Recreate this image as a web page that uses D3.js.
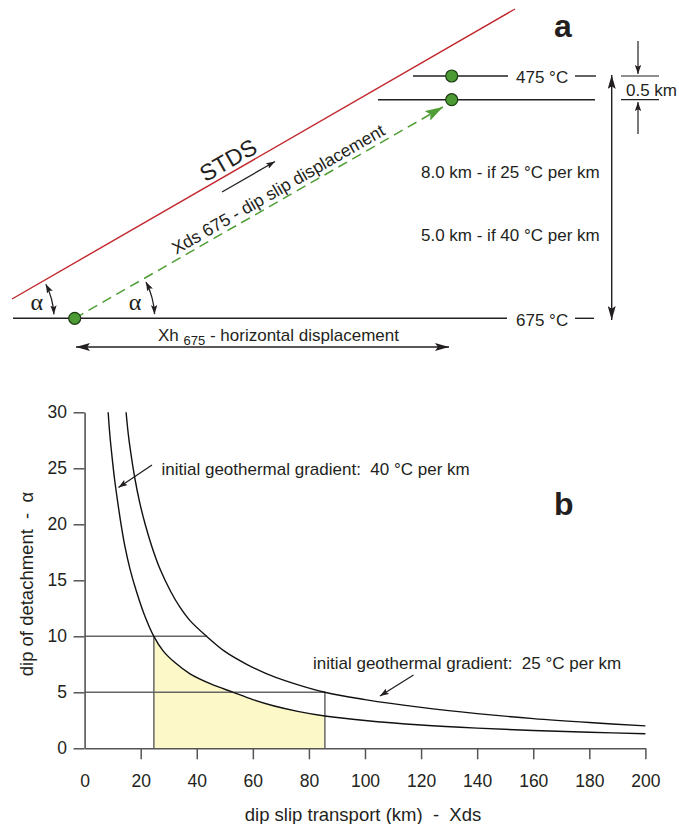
<!DOCTYPE html>
<html>
<head>
<meta charset="utf-8">
<script src="https://cdn.jsdelivr.net/npm/d3@7"></script>
<style>
  body { margin: 0; background: #fff; }
  text { font-family: "Liberation Sans", Arial, sans-serif; fill: #231f20; }
</style>
</head>
<body>
<div id="chart"></div>
<script>
// ---- panel b data ----
const xTicks = [0, 20, 40, 60, 80, 100, 120, 140, 160, 180, 200];
const yTicks = [0, 5, 10, 15, 20, 25, 30];

// initial geothermal gradient 40 °C per km
const grad40Transport = [8.4, 9.0, 9.8, 10.7, 11.8, 13.0, 14.4, 16.2, 18.5, 21.2, 24.7, 28.0, 32.0, 37.6, 45, 53, 60, 67.3, 76, 85.7, 100, 120, 140, 160, 180, 200];
const grad40Dip       = [30, 28, 26, 24, 22, 20, 18, 16, 14, 12, 10, 8.7, 7.7, 6.65, 5.75, 5.0, 4.35, 3.8, 3.3, 2.88, 2.48, 2.08, 1.8, 1.59, 1.43, 1.3];

// initial geothermal gradient 25 °C per km
const grad25Transport = [14.8, 15.6, 16.7, 18.0, 19.6, 21.6, 24.0, 26.9, 30.7, 34.0, 37.6, 43.5, 50, 57.8, 65, 72, 85.7, 100, 120, 140, 160, 180, 200];
const grad25Dip       = [30, 28, 26, 24, 22, 20, 18, 16, 14, 12.6, 11.4, 10.0, 8.65, 7.5, 6.65, 6.0, 5.0, 4.35, 3.65, 3.1, 2.65, 2.3, 2.0];

// reference dips and the transport range that is shaded
const guideDips = [10, 5];
const guideEnds = [43.5, 85.7];      // where each dip line stops
const shadeRange = [24.7, 85.7];

const width = 679, height = 824;
const svg = d3.select("#chart").append("svg")
    .attr("width", width)
    .attr("height", height);

const defs = svg.append("defs");
function marker(id, len, half, color) {
    defs.append("marker")
        .attr("id", id)
        .attr("viewBox", `0 0 ${len} ${half * 2}`)
        .attr("refX", len)
        .attr("refY", half)
        .attr("markerWidth", len)
        .attr("markerHeight", half * 2)
        .attr("markerUnits", "userSpaceOnUse")
        .attr("orient", "auto-start-reverse")
        .append("path")
        .attr("d", `M0,0 L${len},${half} L0,${half * 2} L${len * 0.2},${half} Z`)
        .attr("fill", color);
}
marker("arrow", 14, 4, "#231f20");
marker("arrowSmall", 9, 3.2, "#231f20");
marker("arrowGreen", 18, 5.5, "#4f9d34");

// =================== panel a (schematic) ===================
const a = svg.append("g");
const ink = "#231f20";
const levelTop = 76, levelMid = 99.7, levelBase = 318.3;
const dotBase = [74.7, levelBase], dotUp = [451.7, levelMid], dotTop = [451.7, levelTop];

// STDS detachment
a.append("line")
    .attr("x1", 12).attr("y1", 299).attr("x2", 515).attr("y2", 9)
    .attr("stroke", "#c1272d").attr("stroke-width", 1.4);

// isotherm lines
a.append("line").attr("x1", 13).attr("y1", levelBase).attr("x2", 507).attr("y2", levelBase)
    .attr("stroke", ink).attr("stroke-width", 1.4);
a.append("line").attr("x1", 575).attr("y1", levelBase).attr("x2", 594).attr("y2", levelBase)
    .attr("stroke", ink).attr("stroke-width", 1.4);
a.append("line").attr("x1", 413).attr("y1", levelTop).attr("x2", 508).attr("y2", levelTop)
    .attr("stroke", ink).attr("stroke-width", 1.4);
a.append("line").attr("x1", 575).attr("y1", levelTop).attr("x2", 596).attr("y2", levelTop)
    .attr("stroke", ink).attr("stroke-width", 1.4);
a.append("line").attr("x1", 378).attr("y1", levelMid).attr("x2", 595).attr("y2", levelMid)
    .attr("stroke", ink).attr("stroke-width", 1.4);

a.append("text").attr("x", 516).attr("y", 83).attr("font-size", 17).text("475 °C");
a.append("text").attr("x", 516).attr("y", 326).attr("font-size", 17).text("675 °C");

// 0.5 km bracket
a.append("line").attr("x1", 621).attr("y1", levelTop).attr("x2", 659).attr("y2", levelTop)
    .attr("stroke", ink).attr("stroke-width", 1.2);
a.append("line").attr("x1", 621).attr("y1", levelMid).attr("x2", 659).attr("y2", levelMid)
    .attr("stroke", ink).attr("stroke-width", 1.2);
a.append("line").attr("x1", 638).attr("y1", 41).attr("x2", 638).attr("y2", 74)
    .attr("stroke", ink).attr("stroke-width", 1.2).attr("marker-end", "url(#arrowSmall)");
a.append("line").attr("x1", 638).attr("y1", 134).attr("x2", 638).attr("y2", 102)
    .attr("stroke", ink).attr("stroke-width", 1.2).attr("marker-end", "url(#arrowSmall)");
a.append("text").attr("x", 626).attr("y", 95.5).attr("font-size", 17).text("0.5 km");

// vertical depth arrow
a.append("line").attr("x1", 611.7).attr("y1", 75).attr("x2", 611.7).attr("y2", 320)
    .attr("stroke", ink).attr("stroke-width", 1.4)
    .attr("marker-start", "url(#arrow)").attr("marker-end", "url(#arrow)");
a.append("text").attr("x", 421).attr("y", 178.3).attr("font-size", 17).text("8.0 km - if 25 °C per km");
a.append("text").attr("x", 421).attr("y", 240.5).attr("font-size", 17).text("5.0 km - if 40 °C per km");

// green dip-slip path
a.append("line")
    .attr("x1", dotBase[0]).attr("y1", dotBase[1]).attr("x2", 443).attr("y2", 107)
    .attr("stroke", "#4f9d34").attr("stroke-width", 1.5)
    .attr("stroke-dasharray", "10,6")
    .attr("marker-end", "url(#arrowGreen)");

a.selectAll("circle.pt")
    .data([dotBase, dotUp, dotTop])
    .join("circle")
    .attr("class", "pt")
    .attr("cx", d => d[0]).attr("cy", d => d[1]).attr("r", 6)
    .attr("fill", "#4b9a34").attr("stroke", "#1d3b12").attr("stroke-width", 1.2);

// labels along the fault
const ang = -29.9;
a.append("text")
    .attr("transform", `translate(228,160) rotate(${ang})`)
    .attr("text-anchor", "middle").attr("dy", "0.36em")
    .attr("font-size", 23).text("STDS");
a.append("line").attr("x1", 222).attr("y1", 192).attr("x2", 275).attr("y2", 161.5)
    .attr("stroke", ink).attr("stroke-width", 1.3).attr("marker-end", "url(#arrowSmall)");
a.append("text")
    .attr("transform", `translate(278,189) rotate(${ang})`)
    .attr("text-anchor", "middle").attr("dy", "0.36em")
    .attr("font-size", 17.5).text("Xds 675 - dip slip displacement");

// alpha arcs
function arcPath(cx, cy, r, a0, a1) {
    const p0 = [cx + r * Math.cos(a0 * Math.PI / 180), cy + r * Math.sin(a0 * Math.PI / 180)];
    const p1 = [cx + r * Math.cos(a1 * Math.PI / 180), cy + r * Math.sin(a1 * Math.PI / 180)];
    return `M${p0[0]},${p0[1]} A${r},${r} 0 0 1 ${p1[0]},${p1[1]}`;
}
[[-21, levelBase, 75], [dotBase[0], levelBase, 80]].forEach(([cx, cy, r]) => {
    a.append("path")
        .attr("d", arcPath(cx, cy, r, -27, -3))
        .attr("fill", "none").attr("stroke", ink).attr("stroke-width", 1.3)
        .attr("marker-start", "url(#arrowSmall)").attr("marker-end", "url(#arrowSmall)");
});
[36.7, 135].forEach(cx => {
    a.append("text").attr("x", cx).attr("y", 310).attr("text-anchor", "middle")
        .attr("font-size", 24).style("font-family", "'Liberation Serif', serif").text("α");
});

// horizontal displacement
a.append("line").attr("x1", 76).attr("y1", 347).attr("x2", 449).attr("y2", 347)
    .attr("stroke", ink).attr("stroke-width", 1.3)
    .attr("marker-start", "url(#arrow)").attr("marker-end", "url(#arrow)");
const xh = a.append("text").attr("x", 158).attr("y", 341).attr("font-size", 17).style("white-space", "pre");
xh.append("tspan").text("Xh ");
xh.append("tspan").attr("font-size", 13).attr("dy", 4).text("675");
xh.append("tspan").attr("dy", -4).text(" - horizontal displacement");

a.append("text").attr("x", 554).attr("y", 36.7).attr("font-size", 32)
    .attr("font-weight", "bold").text("a");

// =================== panel b (chart) ===================
const x = d3.scaleLinear().domain([0, 200]).range([84.6, 645.4]);
const y = d3.scaleLinear().domain([0, 30]).range([748.3, 412.3]);
const axisColor = "#555";
const guideColor = "#666";

const curve40 = grad40Transport.map((t, i) => ({ t, dip: grad40Dip[i] }));
const curve25 = grad25Transport.map((t, i) => ({ t, dip: grad25Dip[i] }));

// shaded region under the 40 °C per km curve
const shade = curve40.filter(d => d.t >= shadeRange[0] && d.t <= shadeRange[1]);
svg.append("path")
    .datum(shade)
    .attr("fill", "#fcf8c8")
    .attr("d", d3.area()
        .x(d => x(d.t))
        .y0(y(0))
        .y1(d => y(d.dip))
        .curve(d3.curveCatmullRom.alpha(0.5)));

// reference lines
guideDips.forEach((dip, i) => {
    svg.append("line")
        .attr("x1", x(0)).attr("x2", x(guideEnds[i]))
        .attr("y1", y(dip)).attr("y2", y(dip))
        .attr("stroke", guideColor).attr("stroke-width", 1.5);
});
shadeRange.forEach((t, i) => {
    svg.append("line")
        .attr("x1", x(t)).attr("x2", x(t))
        .attr("y1", y(0)).attr("y2", y(guideDips[i]))
        .attr("stroke", guideColor).attr("stroke-width", 1.5);
});

// curves
const line = d3.line()
    .x(d => x(d.t))
    .y(d => y(d.dip))
    .curve(d3.curveCatmullRom.alpha(0.5));
[curve40, curve25].forEach(c => {
    svg.append("path")
        .datum(c)
        .attr("fill", "none")
        .attr("stroke", "#111")
        .attr("stroke-width", 1.4)
        .attr("d", line);
});

// axes
const gx = svg.append("g")
    .attr("transform", `translate(0,${y(0)})`)
    .call(d3.axisBottom(x).tickValues(xTicks).tickSize(11).tickSizeOuter(0).tickPadding(15));
gx.selectAll(".tick").filter(d => d === 0).select("line").remove();

const gy = svg.append("g")
    .attr("transform", `translate(${x(0)},0)`)
    .call(d3.axisLeft(y).tickValues(yTicks).tickSize(11).tickSizeOuter(0).tickPadding(6.6));

[gx, gy].forEach(g => {
    g.attr("font-size", 17.5).attr("font-family", "'Liberation Sans', Arial, sans-serif");
    g.select(".domain").attr("stroke", axisColor).attr("stroke-width", 1.6);
    g.selectAll(".tick line").attr("stroke", axisColor).attr("stroke-width", 1.5);
    g.selectAll(".tick text").attr("fill", "#231f20");
});

// axis titles
svg.append("text")
    .attr("x", 363).attr("y", 821)
    .attr("text-anchor", "middle").attr("font-size", 18.5)
    .style("white-space", "pre")
    .text("dip slip transport (km)  -  Xds");
svg.append("text")
    .attr("transform", "translate(33,584) rotate(-90)")
    .attr("text-anchor", "middle").attr("font-size", 18.5)
    .style("white-space", "pre")
    .text("dip of detachment  -  α");

// annotations
svg.append("text").attr("x", 161.5).attr("y", 475).attr("font-size", 17)
    .style("white-space", "pre").text("initial geothermal gradient:  40 °C per km");
svg.append("line").attr("x1", 152).attr("y1", 465).attr("x2", 118.5).attr("y2", 487.5)
    .attr("stroke", ink).attr("stroke-width", 1.3).attr("marker-end", "url(#arrowSmall)");

svg.append("text").attr("x", 313).attr("y", 669.3).attr("font-size", 17)
    .style("white-space", "pre").text("initial geothermal gradient:  25 °C per km");
svg.append("line").attr("x1", 413.5).attr("y1", 675).attr("x2", 380).attr("y2", 696)
    .attr("stroke", ink).attr("stroke-width", 1.3).attr("marker-end", "url(#arrowSmall)");

svg.append("text").attr("x", 554).attr("y", 515).attr("font-size", 32)
    .attr("font-weight", "bold").text("b");
</script>
</body>
</html>
